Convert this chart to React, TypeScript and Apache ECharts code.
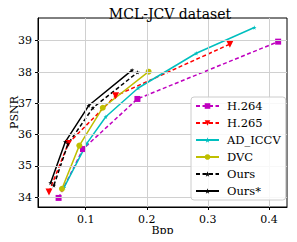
import React, { useEffect, useRef } from "react";
import * as echarts from "echarts";

const seriesNames = ["H.264", "H.265", "AD_ICCV", "DVC", "Ours", "Ours*"];
const h264: number[][] = [[0.0557, 33.98], [0.0956, 35.54], [0.1847, 37.14], [0.415, 38.97]];
const h265: number[][] = [[0.040, 34.17], [0.0715, 35.72], [0.149, 37.24], [0.336, 38.89]];
const adIccv: number[][] = [[0.0645, 34.31], [0.102, 35.72], [0.133, 36.57], [0.186, 37.49], [0.281, 38.6], [0.376, 39.42]];
const dvc: number[][] = [[0.0612, 34.27], [0.0896, 35.65], [0.128, 36.86], [0.203, 38.01]];
const ours: number[][] = [[0.048, 34.38], [0.071, 35.70], [0.112, 36.86], [0.185, 37.99]];
const oursStar: number[][] = [[0.0426, 34.46], [0.0667, 35.77], [0.105, 36.93], [0.176, 38.06]];
const xTicks = [0.1, 0.2, 0.3, 0.4];
const yTicks = [34, 35, 36, 37, 38, 39];

const STAR = "path://M50,0 L61,35 L98,35 L68,57 L79,91 L50,70 L21,91 L32,57 L2,35 L39,35 Z";
const FONT = "DejaVu Serif";
const GRID_COLOR = "#d0d0d0";

export default function App() {
  const ref = useRef<HTMLDivElement>(null);
  useEffect(() => {
    if (!ref.current) return;
    const chart = echarts.init(ref.current, undefined, { renderer: "svg" });
    const mk = (name: string, data: number[][], color: string, dashed: boolean, symbol: string, size: number, rotate = 0) => ({
      name,
      type: "line",
      data,
      color,
      symbol,
      symbolSize: size,
      symbolRotate: rotate,
      z: 3,
      lineStyle: { color, width: 1.5, type: dashed ? [4, 2.5] : "solid" },
      itemStyle: { color },
      emphasis: { disabled: true },
    });
    const gridSeries = {
      name: "_grid",
      type: "line",
      data: [],
      z: 1,
      silent: true,
      markLine: {
        silent: true,
        symbol: "none",
        label: { show: false },
        lineStyle: { color: GRID_COLOR, width: 1, type: "solid" },
        emphasis: { disabled: true },
        data: [...xTicks.map((v) => ({ xAxis: v })), ...yTicks.map((v) => ({ yAxis: v }))],
      },
    };
    chart.setOption({
      animation: false,
      textStyle: { fontFamily: FONT },
      title: {
        text: "MCL-JCV dataset",
        left: 165,
        textAlign: "center",
        top: 2,
        textStyle: { fontFamily: FONT, fontSize: 14, fontWeight: "normal", color: "#000" },
      },
      grid: {
        left: 38, right: 10, top: 18, bottom: 35,
        containLabel: false,
        outerBoundsMode: "none",
        show: true, borderColor: "#000", borderWidth: 1, backgroundColor: "transparent",
      },
      xAxis: {
        type: "value",
        min: 0.022,
        max: 0.4295,
        name: "Bpp",
        nameLocation: "middle",
        nameGap: 18,
        nameMoveOverlap: false,
        nameTextStyle: { fontFamily: FONT, fontSize: 11, color: "#000" },
        axisLine: { show: true, lineStyle: { color: "#000" } },
        axisTick: { show: true, inside: false, length: 3, lineStyle: { color: "#000" }, customValues: xTicks },
        axisLabel: {
          fontFamily: FONT, fontSize: 11, color: "#000", margin: 7,
          customValues: xTicks,
          formatter: (v: number) => v.toFixed(1),
        },
        splitLine: { show: false },
      },
      yAxis: {
        type: "value",
        min: 33.69,
        max: 39.725,
        name: "PSNR",
        nameLocation: "middle",
        nameGap: 18,
        nameMoveOverlap: false,
        nameTextStyle: { fontFamily: FONT, fontSize: 11, color: "#000" },
        axisLine: { show: true, lineStyle: { color: "#000" } },
        axisTick: { show: true, inside: false, length: 3, lineStyle: { color: "#000" }, customValues: yTicks },
        axisLabel: {
          fontFamily: FONT, fontSize: 11, color: "#000", margin: 6,
          customValues: yTicks,
          formatter: (v: number) => String(Math.round(v)),
        },
        splitLine: { show: false },
      },
      legend: {
        orient: "vertical",
        left: 191,
        top: 97,
        padding: [3, 5, 3, 4],
        itemWidth: 23,
        itemHeight: 7,
        itemGap: 5,
        backgroundColor: "rgba(255,255,255,0.85)",
        borderColor: "#cccccc",
        borderWidth: 1,
        borderRadius: 3,
        z: 10,
        textStyle: { fontFamily: FONT, fontSize: 11.5, color: "#000", lineHeight: 12, padding: [0, 0, 0, 3] },
        data: seriesNames,
      },
      series: [
        gridSeries,
        mk(seriesNames[0], h264, "#bf00bf", true, "rect", 6),
        mk(seriesNames[1], h265, "#ff0000", true, "triangle", 7, 180),
        mk(seriesNames[2], adIccv, "#00bfbf", false, STAR, 4.5),
        mk(seriesNames[3], dvc, "#bfbf00", false, "circle", 6),
        mk(seriesNames[4], ours, "#000000", true, STAR, 4.5),
        mk(seriesNames[5], oursStar, "#000000", false, STAR, 4.5),
      ],
    });
    return () => chart.dispose();
  }, []);
  return <div ref={ref} style={{ width: 297, height: 242, margin: -8 }} />;
}
